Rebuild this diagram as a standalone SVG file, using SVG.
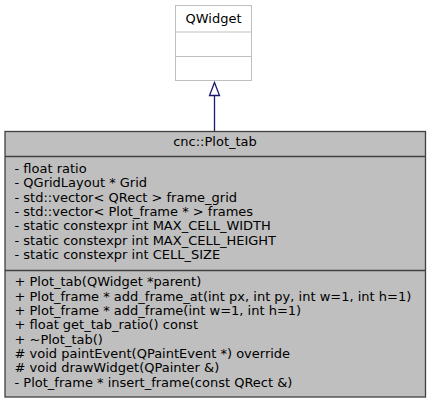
<svg xmlns="http://www.w3.org/2000/svg" width="431" height="404" viewBox="0 0 431 404">
<style>
text{font-family:"DejaVu Sans",sans-serif;font-size:13px;fill:#000}
.c{text-anchor:middle}
.ext{fill:#fff;stroke:#bfbfbf;stroke-width:1}
.main{fill:#bfbfbf;stroke:#404040;stroke-width:1.3}
.edge{stroke:#191970;stroke-width:1.3;fill:none}
</style>
<rect width="431" height="404" fill="#fff"/>
<g id="node-qwidget">
<rect class="ext" x="175.5" y="5.5" width="76" height="75"/>
<line class="ext" x1="175.5" y1="32" x2="251.5" y2="32"/>
<line class="ext" x1="175.5" y1="56.5" x2="251.5" y2="56.5"/>
<text class="c" x="213.5" y="23">QWidget</text>
</g>
<g id="connectors">
<line class="edge" x1="214.5" y1="95" x2="214.5" y2="131.5"/>
<polygon class="edge" fill="#fff" style="fill:#fff" points="214.5,82.5 209.5,95.5 219.5,95.5"/>
</g>
<g id="node-plot_tab">
<rect class="main" x="5" y="131.5" width="420.5" height="265.5"/>
<line class="main" x1="5" y1="156.5" x2="425.5" y2="156.5"/>
<line class="main" x1="5" y1="270.5" x2="425.5" y2="270.5"/>
<text class="c" x="215" y="146">cnc::Plot_tab</text>
<text x="14.5" y="172.8">- float ratio</text>
<text x="14.5" y="187.2">- QGridLayout * Grid</text>
<text x="14.5" y="201.5">- std::vector&lt; QRect &gt; frame_grid</text>
<text x="14.5" y="215.8">- std::vector&lt; Plot_frame * &gt; frames</text>
<text x="14.5" y="230.2">- static constexpr int MAX_CELL_WIDTH</text>
<text x="14.5" y="244.5">- static constexpr int MAX_CELL_HEIGHT</text>
<text x="14.5" y="258.8">- static constexpr int CELL_SIZE</text>
<text x="14.5" y="286.2">+ Plot_tab(QWidget *parent)</text>
<text x="14.5" y="300.5">+ Plot_frame * add_frame_at(int px, int py, int w=1, int h=1)</text>
<text x="14.5" y="314.8">+ Plot_frame * add_frame(int w=1, int h=1)</text>
<text x="14.5" y="329.2">+ float get_tab_ratio() const</text>
<text x="14.5" y="343.5">+ ~Plot_tab()</text>
<text x="14.5" y="357.8"># void paintEvent(QPaintEvent *) override</text>
<text x="14.5" y="372.2"># void drawWidget(QPainter &amp;)</text>
<text x="14.5" y="386.5">- Plot_frame * insert_frame(const QRect &amp;)</text>
</g>
</svg>
